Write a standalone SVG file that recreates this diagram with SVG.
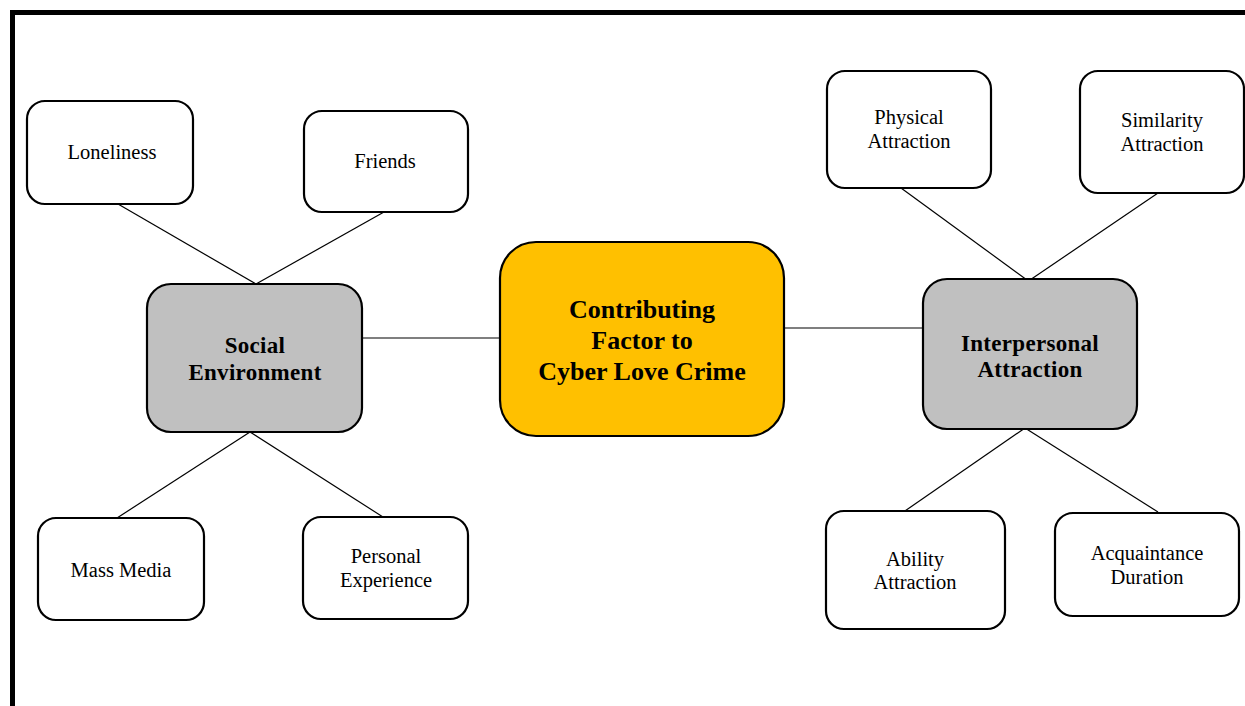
<svg xmlns="http://www.w3.org/2000/svg" width="1245" height="706" viewBox="0 0 1245 706">
<style>
.box{fill:#fff;stroke:#000;stroke-width:2.2}
.hub{fill:#c0c0c0;stroke:#000;stroke-width:2.2}
.core{fill:#ffc000;stroke:#000;stroke-width:2.2}
.t{font-family:"Liberation Serif","Times New Roman",serif;font-size:20.5px;fill:#000;text-anchor:middle}
.b{font-family:"Liberation Serif","Times New Roman",serif;font-weight:bold;font-size:23px;fill:#000;text-anchor:middle;letter-spacing:0.3px}
.c{font-family:"Liberation Serif","Times New Roman",serif;font-weight:bold;font-size:26px;fill:#000;text-anchor:middle}
.ln{stroke:#000;stroke-width:1.2;fill:none}
</style>
<rect width="1245" height="706" fill="#fff"/>
<path d="M12.5 706 V12.5 H1250" fill="none" stroke="#000" stroke-width="5"/>
<g id="connectors">
<line class="ln" x1="118" y1="204" x2="256" y2="284"/>
<line class="ln" x1="384" y1="212" x2="256" y2="284"/>
<line class="ln" x1="250" y1="432" x2="117" y2="518"/>
<line class="ln" x1="250" y1="432" x2="383" y2="517"/>
<line class="ln" x1="362" y1="338" x2="500" y2="338"/>
<line class="ln" x1="784" y1="328" x2="923" y2="328"/>
<line class="ln" x1="901" y1="188" x2="1027" y2="280"/>
<line class="ln" x1="1158" y1="193" x2="1030" y2="280"/>
<line class="ln" x1="1025" y1="428" x2="902" y2="513"/>
<line class="ln" x1="1025" y1="428" x2="1158" y2="512"/>
</g>
<g id="loneliness">
<rect class="box" x="27" y="101" width="166" height="103" rx="18"/>
<text class="t" x="112" y="159">Loneliness</text>
</g>
<g id="friends">
<rect class="box" x="304" y="111" width="164" height="101" rx="18"/>
<text class="t" x="385" y="168">Friends</text>
</g>
<g id="physical">
<rect class="box" x="827" y="71" width="164" height="117" rx="18"/>
<text class="t" x="909" y="124">Physical</text>
<text class="t" x="909" y="148">Attraction</text>
</g>
<g id="similarity">
<rect class="box" x="1080" y="71" width="164" height="122" rx="18"/>
<text class="t" x="1162" y="127">Similarity</text>
<text class="t" x="1162" y="151">Attraction</text>
</g>
<g id="central">
<rect class="core" x="500" y="242" width="284" height="194" rx="36"/>
<text class="c" x="642" y="318">Contributing</text>
<text class="c" x="642" y="349">Factor to</text>
<text class="c" x="642" y="380">Cyber Love Crime</text>
</g>
<g id="social">
<rect class="hub" x="147" y="284" width="215" height="148" rx="24"/>
<text class="b" x="255" y="353">Social</text>
<text class="b" x="255" y="380">Environment</text>
</g>
<g id="interpersonal">
<rect class="hub" x="923" y="279" width="214" height="150" rx="24"/>
<text class="b" x="1030" y="351">Interpersonal</text>
<text class="b" x="1030" y="377">Attraction</text>
</g>
<g id="massmedia">
<rect class="box" x="38" y="518" width="166" height="102" rx="18"/>
<text class="t" x="121" y="577">Mass Media</text>
</g>
<g id="personal">
<rect class="box" x="303" y="517" width="165" height="102" rx="18"/>
<text class="t" x="386" y="563">Personal</text>
<text class="t" x="386" y="587">Experience</text>
</g>
<g id="ability">
<rect class="box" x="826" y="511" width="179" height="118" rx="18"/>
<text class="t" x="915" y="566">Ability</text>
<text class="t" x="915" y="589">Attraction</text>
</g>
<g id="acquaintance">
<rect class="box" x="1055" y="513" width="184" height="103" rx="18"/>
<text class="t" x="1147" y="560">Acquaintance</text>
<text class="t" x="1147" y="584">Duration</text>
</g>
</svg>
